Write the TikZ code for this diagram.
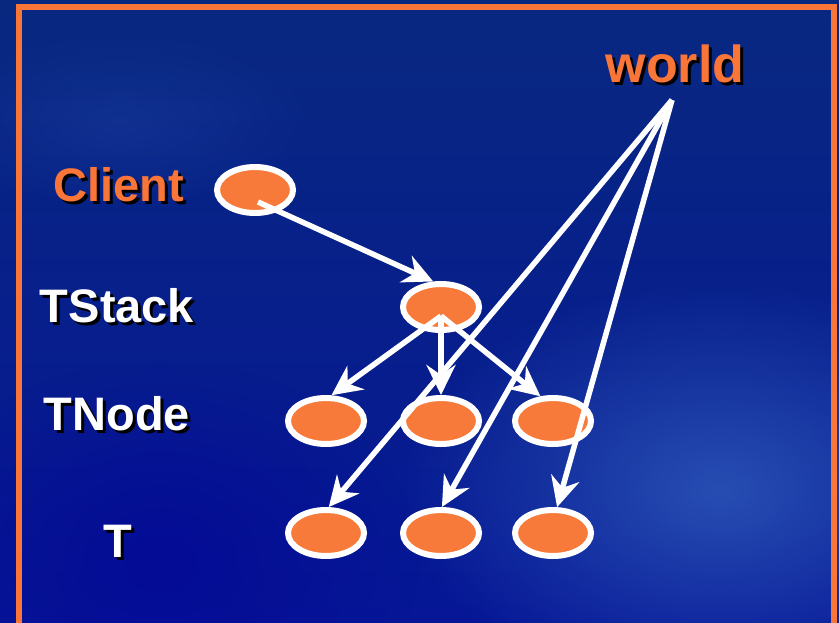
\documentclass[tikz,border=0pt]{standalone}
\usepackage{fontspec}
\setmainfont{Liberation Sans}
\usetikzlibrary{arrows.meta,shapes.geometric,fadings}

\definecolor{bgtop}{RGB}{8,40,128}
\definecolor{bgbot}{RGB}{6,22,150}
\definecolor{bgdeep}{RGB}{4,8,150}
\definecolor{bglight}{RGB}{50,95,190}
\definecolor{frameorange}{RGB}{250,118,56}
\definecolor{nodeorange}{RGB}{248,122,58}

\tikzfading[name=glow, inner color=transparent!0, outer color=transparent!100]

\tikzset{
  obj/.style={ellipse, draw=white, line width=6pt, fill=nodeorange,
    minimum width=76pt, minimum height=46pt, inner sep=0pt},
  ref/.style={draw=white, line width=5.5pt,
    -{Stealth[length=30pt, width=29pt, inset=10pt]}},
  lbl/.style={font=\bfseries\fontsize{47}{50}\selectfont, anchor=base, inner sep=0pt},
}

% shadowed label: name, position, colour, extra options, text
\newcommand{\shadowlabel}[5]{%
  \node[lbl, text=black, #4] at ([xshift=3pt,yshift=-3pt]#2) {#5};
  \node[lbl, text=#3, #4] (#1) at (#2) {#5};
}

\begin{document}
\begin{tikzpicture}[x=1pt, y=-1pt]
  \useasboundingbox (0,0) rectangle (839,623);

  % background
  \shade[top color=bgtop, bottom color=bgbot] (0,0) rectangle (839,623);
  \fill[bgdeep, path fading=glow, fill opacity=0.8] (160,560) ellipse (260 and 200);
  \fill[bglight, path fading=glow, fill opacity=0.75] (720,490) ellipse (320 and 210);
  \fill[bglight, path fading=glow, fill opacity=0.2] (120,120) ellipse (200 and 90);

  % frame
  \draw[frameorange, line width=6pt] (19,7) rectangle (834,640);

  % labels
  \shadowlabel{lclient}{119,202}{frameorange}{}{Client}
  \shadowlabel{lstack}{117,322}{white}{}{TStack}
  \shadowlabel{lnode}{117,430}{white}{}{TNode}
  \shadowlabel{lt}{118,557}{white}{}{T}
  \shadowlabel{lworld}{675,83}{frameorange}{font=\bfseries\fontsize{52}{56}\selectfont}{world}

  % objects
  \node[obj] (client) at (255,190) {};
  \node[obj] (tstack) at (441,307) {};
  \node[obj] (tn1) at (326,421) {};
  \node[obj] (tn2) at (441,421) {};
  \node[obj] (tn3) at (553,421) {};
  \node[obj] (t1) at (326,533) {};
  \node[obj] (t2) at (441,533) {};
  \node[obj] (t3) at (553,533) {};
  \coordinate (src) at (672,100);

  % references
  \draw[ref] ([xshift=3pt,yshift=-12pt]client.center) -- (tstack.107);
  \draw[ref] ([yshift=-9pt]tstack.center) -- (tn1.78);
  \draw[ref] ([yshift=-9pt]tstack.center) -- (tn2.north);
  \draw[ref] ([yshift=-9pt]tstack.center) -- (tn3.117);
  \draw[ref] (src) -- (t1.84);
  \draw[ref] (src) -- (t2.88);
  \draw[ref] (src) -- (t3.81);
\end{tikzpicture}
\end{document}
